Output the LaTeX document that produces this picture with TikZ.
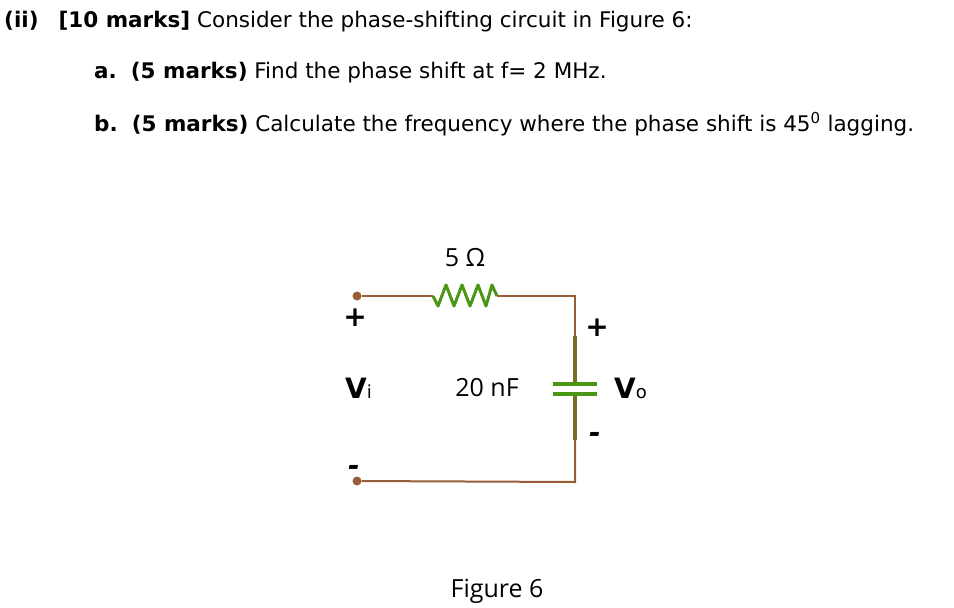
\documentclass[tikz,border=0pt]{standalone}
\usepackage{fontspec}
\setmainfont{DejaVu Sans}
\newfontfamily\circfont{Open Sans}
\definecolor{wirec}{RGB}{150,95,55}
\definecolor{resc}{RGB}{75,150,20}
\definecolor{capc}{RGB}{120,110,35}
\tikzset{wire/.style={draw=wirec,line width=2pt},
 term/.style={circle,fill=wirec,inner sep=0pt,minimum size=9pt},
 qtext/.style={anchor=base west,inner sep=0pt,font=\fontsize{21.5}{26}\selectfont},
 clab/.style={inner sep=0pt,font=\circfont\fontsize{25}{29}\selectfont},
 sign/.style={inner sep=0pt,font=\bfseries\itshape\fontsize{28}{32}\selectfont}}
\begin{document}
\begin{tikzpicture}[x=1pt,y=-1pt]
\useasboundingbox (0,0) rectangle (954,608);
\node[qtext] (q0) at (4,27) {\textbf{(ii)}\hspace{20pt}\textbf{[10 marks]} Consider the phase-shifting circuit in Figure 6:};
\node[qtext] (qa) at (94,78) {\textbf{a.}\hspace{14pt}\textbf{(5 marks)} Find the phase shift at f= 2 MHz.};
\node[qtext] (qb) at (94,131) {\textbf{b.}\hspace{14pt}\textbf{(5 marks)} Calculate the frequency where the phase shift is 45\textsuperscript{0} lagging.};
\node[term] (t1) at (357,296) {};
\node[term] (t2) at (357,481) {};
\coordinate (r1) at (433,296);
\coordinate (r2) at (497,296);
\coordinate (tr) at (575,296);
\coordinate (br) at (575,482);
\coordinate (c1) at (575,336);
\coordinate (c2) at (575,440);
\draw[wire] (t1) -- (r1);
\draw[resc,line width=3pt,line join=round] (r1) -- (438,306) -- (446,285) -- (454,306) -- (462,285) -- (470,306) -- (478,285) -- (486,306) -- (492,285) -- (r2);
\draw[wire] (r2) -- (tr) -- (c1);
\draw[capc,line width=3.5pt] (c1) -- (575,384) (575,394) -- (c2);
\draw[resc,line width=3.5pt] (553,384) -- (597,384) (553,394) -- (597,394);
\draw[wire] (c2) -- (br) -- (t2);
\node[clab] (lr) at (465,258) {5 Ω};
\node[clab] (lc) at (487,388) {20 nF};
\node[clab] (lf) at (497,591) {Figure 6};
\node[sign] (p1) at (355,318) {+};
\node[sign] (p2) at (597,328) {+};
\node[sign] (m2) at (595,437) {-};
\node[sign] (m1) at (354,470) {-};
\node[inner sep=0pt,anchor=base west] (vi) at (345,398) {\fontsize{28}{32}\selectfont\textbf{V}\fontsize{18}{20}\selectfont i};
\node[inner sep=0pt,anchor=base west] (vo) at (614,398) {\fontsize{28}{32}\selectfont\textbf{V}\fontsize{18}{20}\selectfont o};
\end{tikzpicture}
\end{document}
